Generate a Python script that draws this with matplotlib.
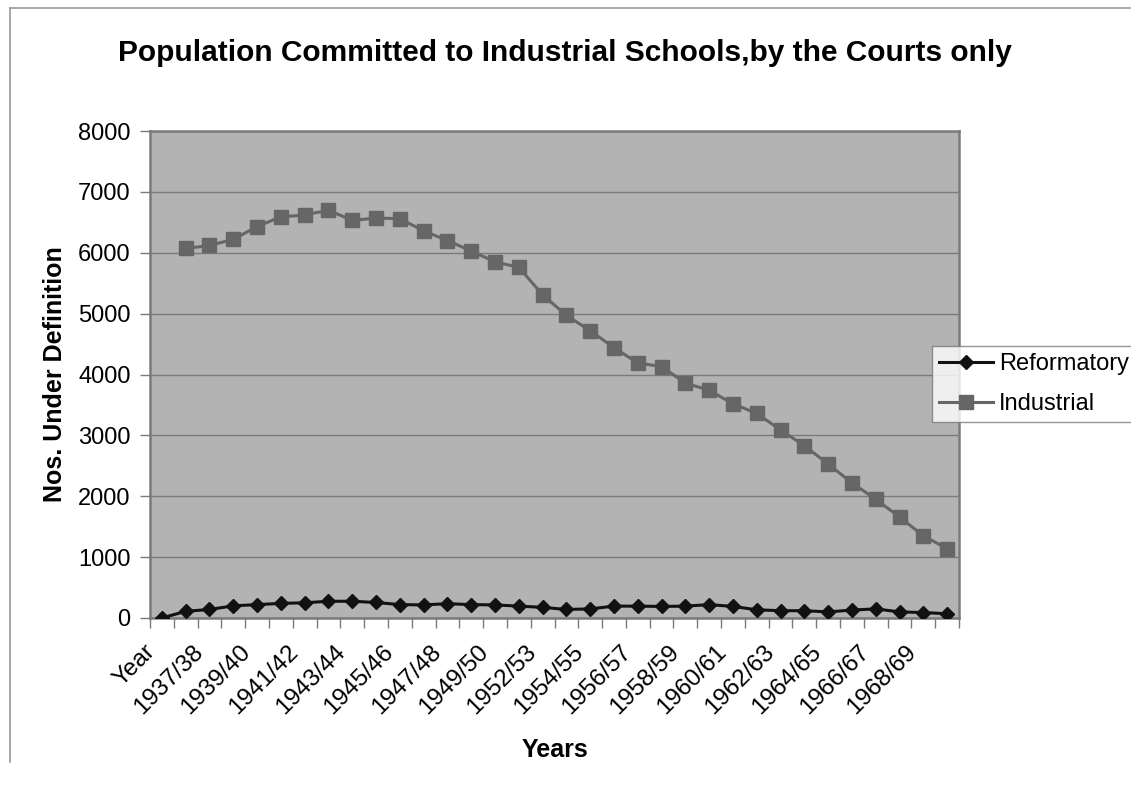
import numpy as np
import matplotlib
matplotlib.use("Agg")
import matplotlib.pyplot as plt
from matplotlib.lines import Line2D

###############################################################################
# data
###############################################################################
years = ["Year", "1936/37", "1937/38", "1938/39", "1939/40", "1940/41",
         "1941/42", "1942/43", "1943/44", "1944/45", "1945/46", "1946/47",
         "1947/48", "1948/49", "1949/50", "1950/51", "1952/53", "1953/54",
         "1954/55", "1955/56", "1956/57", "1957/58", "1958/59", "1959/60",
         "1960/61", "1961/62", "1962/63", "1963/64", "1964/65", "1965/66",
         "1966/67", "1967/68", "1968/69", "1969/70"]
reformatory = [0, 110, 140, 200, 220, 240, 250, 275, 275, 255, 220, 215,
               235, 220, 215, 195, 175, 140, 150, 195, 195, 190, 195, 220,
               190, 135, 120, 120, 100, 130, 150, 100, 90, 70]
industrial = [np.nan, 6070, 6120, 6220, 6430, 6590, 6620, 6700, 6530, 6570,
              6560, 6360, 6200, 6030, 5850, 5760, 5310, 4970, 4720, 4440,
              4190, 4130, 3860, 3740, 3520, 3360, 3090, 2830, 2530, 2220,
              1950, 1660, 1350, 1140]

plt.rcParams["font.family"] = ["Liberation Sans", "DejaVu Sans"]

W, H = 1131, 790
fig = plt.figure(figsize=(W/100, H/100), dpi=100)
fig.patch.set_facecolor("white")

# chart area outline (only top and left visible in the original)
fig.add_artist(Line2D([10/W, 10/W], [1-8/H, 1-762/H], transform=fig.transFigure,
                      color="#9a9a9a", linewidth=1.2))
fig.add_artist(Line2D([10/W, 1.0], [1-8/H, 1-8/H], transform=fig.transFigure,
                      color="#9a9a9a", linewidth=1.2))

ax = fig.add_axes([150/W, 1-618/H, (959-150)/W, (618-131)/H])
ax.set_facecolor("#b3b3b3")

x = np.arange(len(years))
ax.plot(x, reformatory, color="#111111", linewidth=2.2, marker="D",
        markersize=7, markerfacecolor="#111111", markeredgecolor="#111111",
        label="Reformatory", zorder=4)
ax.plot(x, industrial, color="#666666", linewidth=2.2, marker="s",
        markersize=10.5, markerfacecolor="#666666", markeredgecolor="#666666",
        label="Industrial", zorder=3)

ax.set_xlim(-0.5, len(years)-0.5)
ax.set_ylim(0, 8000)
ax.set_yticks(np.arange(0, 8001, 1000))
ax.yaxis.grid(True, color="#7a7a7a", linewidth=1.0)
ax.set_axisbelow(True)

# labels on every other category (nudged a little left like the original),
# tick marks at category boundaries
ax.set_xticks(x[::2] - 0.42)
ax.set_xticklabels(years[::2], rotation=45, ha="right", va="center",
                   rotation_mode="anchor", fontsize=17.5)
ax.set_xticks(np.arange(-0.5, len(years), 1), minor=True)
ax.tick_params(axis="x", which="major", length=0, pad=22)
ax.tick_params(axis="x", which="minor", length=7, width=1, color="#7a7a7a")
ax.tick_params(axis="y", length=7, width=1, color="#7a7a7a", labelsize=17,
               pad=7)

for s in ax.spines.values():
    s.set_color("#7a7a7a")
    s.set_linewidth(1.8)

ax.set_xlabel("Years", fontsize=18, fontweight="bold", labelpad=14)
ax.set_ylabel("Nos. Under Definition", fontsize=18, fontweight="bold",
              labelpad=8)
fig.text(565/W, 1-53/H, "Population Committed to Industrial Schools,by the Courts only",
         ha="center", va="center", fontsize=21.5, fontweight="bold")

leg = ax.legend(loc="upper left", bbox_to_anchor=(932/W, 1-346/H),
                bbox_transform=fig.transFigure, fontsize=17, frameon=True,
                fancybox=False, edgecolor="#7a7a7a", handlelength=2.3,
                handletextpad=0.25, labelspacing=0.75, borderpad=0.3,
                borderaxespad=0)
leg.get_frame().set_linewidth(1.0)

plt.savefig("out.png", dpi=100)
